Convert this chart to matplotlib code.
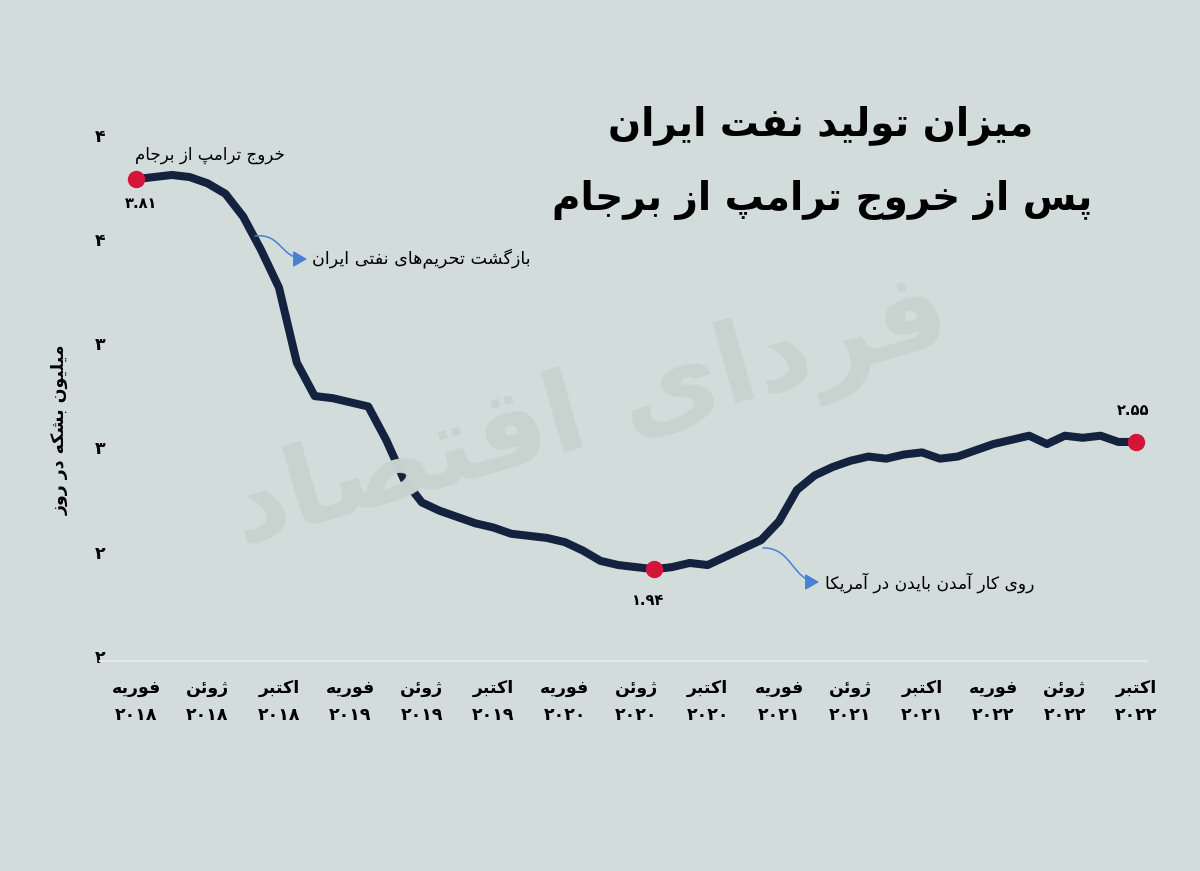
import matplotlib
matplotlib.use("Agg")
import matplotlib.pyplot as plt
from matplotlib.path import Path
from matplotlib.patches import FancyArrowPatch
from matplotlib.transforms import ScaledTranslation

# --- data: Iran crude output, million barrels per day, monthly Feb 2018 .. Oct 2022
production = [
    3.81, 3.82, 3.83, 3.82, 3.79, 3.74, 3.63, 3.47, 3.29, 2.93,
    2.77, 2.76, 2.74, 2.72, 2.56, 2.37, 2.26, 2.22, 2.19, 2.16,
    2.14, 2.11, 2.10, 2.09, 2.07, 2.03, 1.98, 1.96, 1.95, 1.94,
    1.95, 1.97, 1.96, 2.00, 2.04, 2.08, 2.17, 2.32, 2.39, 2.43,
    2.46, 2.48, 2.47, 2.49, 2.50, 2.47, 2.48, 2.51, 2.54, 2.56,
    2.58, 2.54, 2.58, 2.57, 2.58, 2.55, 2.55,
]
months = list(range(len(production)))
tick_months = ["فوریه", "ژوئن", "اکتبر"] * 5
tick_years = ["2018"] * 3 + ["2019"] * 3 + ["2020"] * 3 + ["2021"] * 3 + ["2022"] * 3
y_ticks = [1.5, 2.0, 2.5, 3.0, 3.5, 4.0]
highlight = [0, 29, 56]
highlight_labels = ["3.81", "1.94", "2.55"]

BG = "#d1dcdb"
NAVY = "#13233f"
RED = "#d5143a"
BLUE = "#4a7fd6"

# --- minimal Persian shaping (matplotlib has no bidi / joining)
FORMS = {
    "\u0622": "\uFE81\uFE82", "\u0627": "\uFE8D\uFE8E",
    "\u0626": "\uFE89\uFE8A\uFE8B\uFE8C", "\u0628": "\uFE8F\uFE90\uFE91\uFE92",
    "\u067E": "\uFB56\uFB57\uFB58\uFB59", "\u062A": "\uFE95\uFE96\uFE97\uFE98",
    "\u062C": "\uFE9D\uFE9E\uFE9F\uFEA0", "\u062D": "\uFEA1\uFEA2\uFEA3\uFEA4",
    "\u062E": "\uFEA5\uFEA6\uFEA7\uFEA8", "\u062F": "\uFEA9\uFEAA",
    "\u0631": "\uFEAD\uFEAE", "\u0632": "\uFEAF\uFEB0", "\u0698": "\uFB8A\uFB8B",
    "\u0633": "\uFEB1\uFEB2\uFEB3\uFEB4", "\u0634": "\uFEB5\uFEB6\uFEB7\uFEB8",
    "\u0635": "\uFEB9\uFEBA\uFEBB\uFEBC", "\u0641": "\uFED1\uFED2\uFED3\uFED4",
    "\u0642": "\uFED5\uFED6\uFED7\uFED8", "\u06A9": "\uFB8E\uFB8F\uFB90\uFB91",
    "\u06AF": "\uFB92\uFB93\uFB94\uFB95", "\u0644": "\uFEDD\uFEDE\uFEDF\uFEE0",
    "\u0645": "\uFEE1\uFEE2\uFEE3\uFEE4", "\u0646": "\uFEE5\uFEE6\uFEE7\uFEE8",
    "\u0648": "\uFEED\uFEEE", "\u0647": "\uFEE9\uFEEA\uFEEB\uFEEC",
    "\u06CC": "\uFBFC\uFBFD\uFBFE\uFBFF",
}


def fa(text):
    text = text.replace("\u064A", "\u06CC").replace("\u0643", "\u06A9")
    out = []
    for k, c in enumerate(text):
        f = FORMS.get(c)
        if f is None:
            out.append(c)
            continue
        prev = text[k - 1] if k > 0 else ""
        nxt = text[k + 1] if k + 1 < len(text) else ""
        jp = prev in FORMS and len(FORMS[prev]) == 4
        jn = len(f) == 4 and nxt in FORMS
        if jp and jn:
            out.append(f[3])
        elif jp:
            out.append(f[1])
        elif jn:
            out.append(f[2])
        else:
            out.append(f[0])
    return "".join(out).replace("\u200c", "")[::-1]


def fa_num(s):
    return s.translate(str.maketrans("0123456789", "۰۱۲۳۴۵۶۷۸۹"))


plt.rcParams["font.family"] = ["DejaVu Sans"]

W, H = 1200, 871
fig = plt.figure(figsize=(W / 100, H / 100), dpi=100, facecolor=BG)


def fx(px):
    return px / W


def fy(py):
    return 1 - py / H


ax = fig.add_axes([fx(100), fy(661), fx(1047), (661 - 100) / H])
ax.set_facecolor("none")
ax.set_xlim(-2.02, 56.6)
ax.set_ylim(1.5, 1.5 + 561 / 208.6)

# watermark
fig.text(fx(590), fy(415), fa("فردای اقتصاد"), fontsize=80, color="#c8d3d0",
         ha="center", va="center", rotation=16, fontweight="bold", zorder=0)

ax.plot(months, production, color=NAVY, lw=5.8, solid_joinstyle="round",
        solid_capstyle="round", zorder=3)
ax.plot([months[i] for i in highlight], [production[i] for i in highlight],
        "o", color=RED, ms=11.5, zorder=4)

for spine in ["top", "right", "left"]:
    ax.spines[spine].set_visible(False)
ax.spines["bottom"].set_color("#e4e9e9")
ax.spines["bottom"].set_linewidth(1.6)

ax.set_xticks(list(range(0, 57, 4)))
ax.set_xticklabels([fa(m) + "\n" + fa_num(y) for m, y in zip(tick_months, tick_years)],
                   fontweight="bold", fontsize=12.5, linespacing=1.65)
ax.set_yticks(y_ticks)
ax.set_yticklabels([fa_num(str(int(v + 0.5))) for v in y_ticks],
                   fontweight="bold", fontsize=12.5, ha="center")
ax.tick_params(axis="x", length=0, pad=13)
ax.tick_params(axis="y", length=0, pad=0)
up = ScaledTranslation(0, 5 / 100, fig.dpi_scale_trans)
for lab in ax.get_yticklabels():
    lab.set_transform(lab.get_transform() + up)

fig.text(fx(60), fy(430), fa("میلیون بشکه در روز"), rotation=90, fontsize=12.5,
         fontweight="bold", ha="center", va="center")

# title
fig.text(fx(821), fy(125), fa("میزان تولید نفت ایران"), fontsize=28,
         fontweight="bold", ha="center", va="center")
fig.text(fx(822), fy(200), fa("پس از خروج ترامپ از برجام"), fontsize=28,
         fontweight="bold", ha="center", va="center")

# value labels
offsets = [(5, 24), (-6, 31), (-3, -31)]
for i, lab, (dx, dy) in zip(highlight, highlight_labels, offsets):
    ax.annotate(fa_num(lab), (months[i], production[i]), xytext=(dx, -dy),
                textcoords="offset pixels", ha="center", va="center",
                fontsize=10.5, fontweight="bold")

# notes
fig.text(fx(285), fy(155), fa("خروج ترامپ از برجام"), fontsize=12,
         ha="right", va="center")
fig.text(fx(312), fy(258), fa("بازگشت تحریم‌های نفتی ایران"), fontsize=12.6,
         ha="left", va="center")
fig.text(fx(825), fy(583), fa("روی کار آمدن بایدن در آمریکا"), fontsize=12.3,
         ha="left", va="center")


def curved_arrow(p0, p1, p2, p3):
    verts = [(fx(x), fy(y)) for x, y in (p0, p1, p2, p3)]
    path = Path(verts, [Path.MOVETO, Path.CURVE4, Path.CURVE4, Path.CURVE4])
    arr = FancyArrowPatch(path=path, arrowstyle="-|>,head_length=0.6,head_width=0.35",
                          mutation_scale=14, color=BLUE, lw=1.1,
                          transform=fig.transFigure)
    fig.patches.append(arr)


curved_arrow((255, 236), (282, 233), (280, 259), (307, 259))
curved_arrow((763, 548), (792, 547), (793, 582), (819, 582))

fig.savefig("out.png", dpi=100, facecolor=BG)
